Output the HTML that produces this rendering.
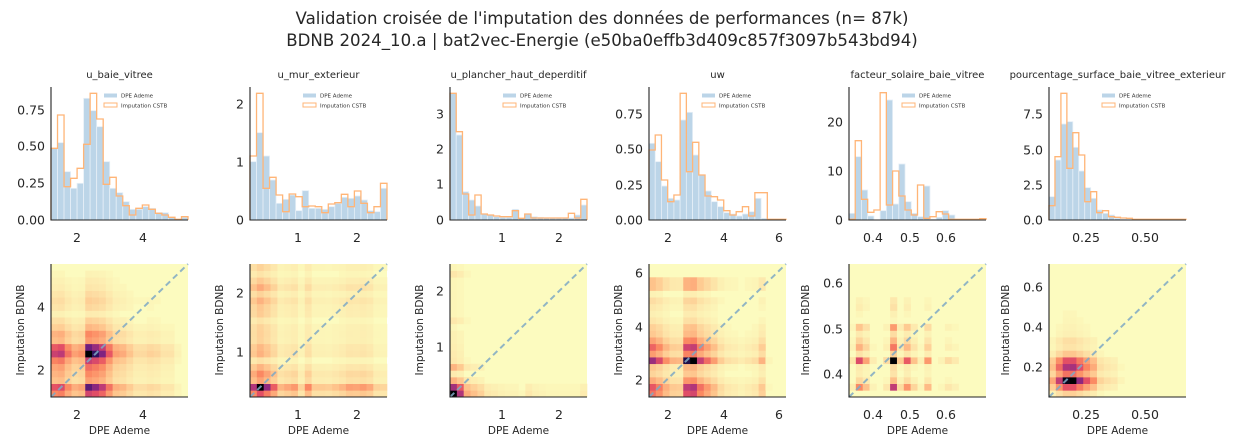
<!DOCTYPE html>
<html><head><meta charset="utf-8"><style>
html,body{margin:0;padding:0;background:#fff}
svg{display:block;font-family:"DejaVu Sans","Liberation Sans",sans-serif}
</style></head><body>
<svg id="s" width="1248" height="446" viewBox="0 0 1248 446" xmlns="http://www.w3.org/2000/svg">
<text x="602" y="24" font-size="16.6" text-anchor="middle" fill="#262626">Validation croisée de l'imputation des données de performances (n= 87k)</text>
<text x="602" y="46" font-size="16.6" text-anchor="middle" fill="#262626">BDNB 2024_10.a | bat2vec-Energie (e50ba0effb3d409c857f3097b543bd94)</text>
</svg>
<script>
const S=document.getElementById('s');let h='';
const W=137,HT=87,HB=220,MT=264,MB=397;
const P=[
{l:51,t:'u_baie_vitree',
b:[265,248,335,385,370,115,152,200,305,385,398,425,448,448,440,445,458,458,472,478,472],
o:[265,165,380,355,325,253,100,177,373,352,408,437,465,445,435,448,460,465,472,478,470],
yt:[['0.00',220],['0.25',183],['0.50',146],['0.75',110]],xt:[['2',77],['4',143]],
hy:[['4',307],['2',370]]},
{l:250,t:'u_mur_exterieur',
b:[305,218,288,360,430,418,405,452,392,445,445,448,440,430,412,415,408,420,452,455,385],
o:[288,100,385,352,405,455,402,410,440,438,440,458,432,428,403,440,393,430,458,440,370],
yt:[['0',220],['1',162],['2',104]],xt:[['1',298],['2',357]],hy:[['2',293],['1',352]]},
{l:450,t:'u_plancher_haut_deperditif',
b:[100,225,395,420,438,462,465,470,472,472,448,475,462,470,472,474,474,474,474,474,465,435],
o:[100,215,402,465,405,462,465,468,470,470,452,475,462,474,474,474,474,474,474,460,474,418],
yt:[['0',220],['1',184],['2',149],['3',114]],xt:[['1',502],['2',559]],hy:[['2',291],['1',347]]},
{l:649,t:'uw',
b:[250,305,378,415,420,180,157,285,345,393,425,440,458,462,468,462,455,415,475,480,480,480],
o:[270,225,360,425,405,100,335,247,345,408,410,420,452,465,455,440,468,398,398,478,478,478],
yt:[['0.00',220],['0.25',185],['0.50',149],['0.75',114]],xt:[['2',668],['4',724],['6',779]],
hy:[['6',273],['4',327],['2',380]]},
{l:849,t:'facteur_solaire_baie_vitree',
b:[460,290,390,468,480,452,120,432,312,425,460,470,378,478,472,452,465,480,480,480,480,480],
o:[478,242,418,457,450,98,435,333,408,450,465,375,475,470,455,462,478,478,478,478,478,476],
yt:[['0',220],['10',171],['20',122]],xt:[['0.4',873],['0.5',910],['0.6',946]],
hy:[['0.6',283],['0.5',329],['0.4',374]]},
{l:1049,t:'pourcentage_surface_baie_vitree_exterieur',
b:[410,300,192,185,262,333,383,415,450,460,465,475,478,479,480,480,480,480,480,480,480,480,480],
o:[437,290,100,325,218,285,425,395,458,452,470,472,474,475,478,478,478,478,478,478,478,478,478],
yt:[['0.0',220],['2.5',185],['5.0',150],['7.5',114]],xt:[['0.25',1086],['0.50',1145]],
hy:[['0.6',287],['0.4',327],['0.2',367]]}];
const stops=[[0,[252,253,191]],[0.2,[254,196,140]],[0.4,[251,135,97]],[0.55,[229,80,100]],[0.7,[183,55,121]],[0.82,[114,31,129]],[0.92,[44,17,95]],[1,[0,0,4]]];
function cm(v){v=Math.max(0,Math.min(1,v));for(let i=1;i<stops.length;i++){if(v<=stops[i][0]){const a=stops[i-1],b=stops[i],f=(v-a[0])/(b[0]-a[0]);return 'rgb('+a[1].map((c,k)=>Math.round(c+(b[1][k]-c)*f)).join(',')+')';}}return 'rgb(0,0,4)';}
P.forEach(p=>{
const L=p.l,n=p.b.length,bw=W/n;
h+=`<text x="${L+W/2}" y="78" font-size="10" text-anchor="middle" fill="#262626">${p.t}</text>`;
const fr=y=>Math.max(0,(480-y)/399*133);
p.b.forEach((y,i)=>{const hh=fr(y);h+=`<rect x="${L+i*bw}" y="${HB-hh}" width="${bw}" height="${hh}" fill="#bcd5e8" stroke="#e6eff7" stroke-width="0.8"/>`;});
let d=`M${L},${HB}`;p.o.forEach((y,i)=>{const yy=HB-fr(y);d+=`L${L+i*bw},${yy}L${L+(i+1)*bw},${yy}`;});d+=`L${L+W},${HB}`;
h+=`<path d="${d}" fill="none" stroke="#ffb577" stroke-width="1.3"/>`;
h+=`<rect x="${L+53}" y="93.5" width="13" height="4" fill="#bcd5e8"/><rect x="${L+53}" y="103" width="13" height="4" fill="none" stroke="#ffb577" stroke-width="1"/>`;
h+=`<text x="${L+70}" y="97.5" font-size="5.5" fill="#333">DPE Ademe</text><text x="${L+70}" y="107.5" font-size="5.5" fill="#333">Imputation CSTB</text>`;
h+=`<path d="M${L},${HT}V${HB}H${L+W}" fill="none" stroke="#222" stroke-width="1.1"/>`;
p.yt.forEach(([t,y])=>h+=`<text x="${L-6}" y="${y+4.5}" font-size="12.5" text-anchor="end" fill="#262626">${t}</text>`);
p.xt.forEach(([t,x])=>{h+=`<text x="${x}" y="242" font-size="12.5" text-anchor="middle" fill="#262626">${t}</text>`;h+=`<text x="${x}" y="419" font-size="12.5" text-anchor="middle" fill="#262626">${t}</text>`;});
const N=20,cw=W/N,ch=(MB-MT)/N;
h+=`<rect x="${L}" y="${MT}" width="${W}" height="${MB-MT}" fill="#fcfbbf"/>`;
const mb=[],mo=[];for(let i=0;i<N;i++){const k=Math.min(n-1,Math.floor(i*n/N));mb.push(fr(p.b[k]));mo.push(fr(p.o[k]));}
const Mb=Math.max(...mb),Mo=Math.max(...mo);
for(let i=0;i<N;i++)for(let j=0;j<N;j++){
let v=Math.pow((mb[i]/Mb)*(mo[j]/Mo),0.85);
if(v<0.02)continue;
h+=`<rect x="${L+i*cw}" y="${MB-(j+1)*ch}" width="${cw+0.3}" height="${ch+0.3}" fill="${cm(v)}"/>`;}
h+=`<line x1="${L}" y1="${MB}" x2="${L+W}" y2="${MT}" stroke="#7fa9c4" stroke-width="2" stroke-dasharray="6,4" opacity="0.85"/>`;
h+=`<path d="M${L},${MT}V${MB}H${L+W}" fill="none" stroke="#222" stroke-width="1.1"/>`;
p.hy.forEach(([t,y])=>h+=`<text x="${L-6}" y="${y+4.5}" font-size="12.5" text-anchor="end" fill="#262626">${t}</text>`);
const lx=L-(p.hy[0][0].length>1?44:31);
h+=`<text transform="translate(${lx+4},330) rotate(-90)" font-size="10.5" text-anchor="middle" fill="#262626">Imputation BDNB</text>`;
h+=`<text x="${L+W/2}" y="434" font-size="10.5" text-anchor="middle" fill="#262626">DPE Ademe</text>`;
});
S.insertAdjacentHTML('beforeend',h);
</script>
</body></html>
